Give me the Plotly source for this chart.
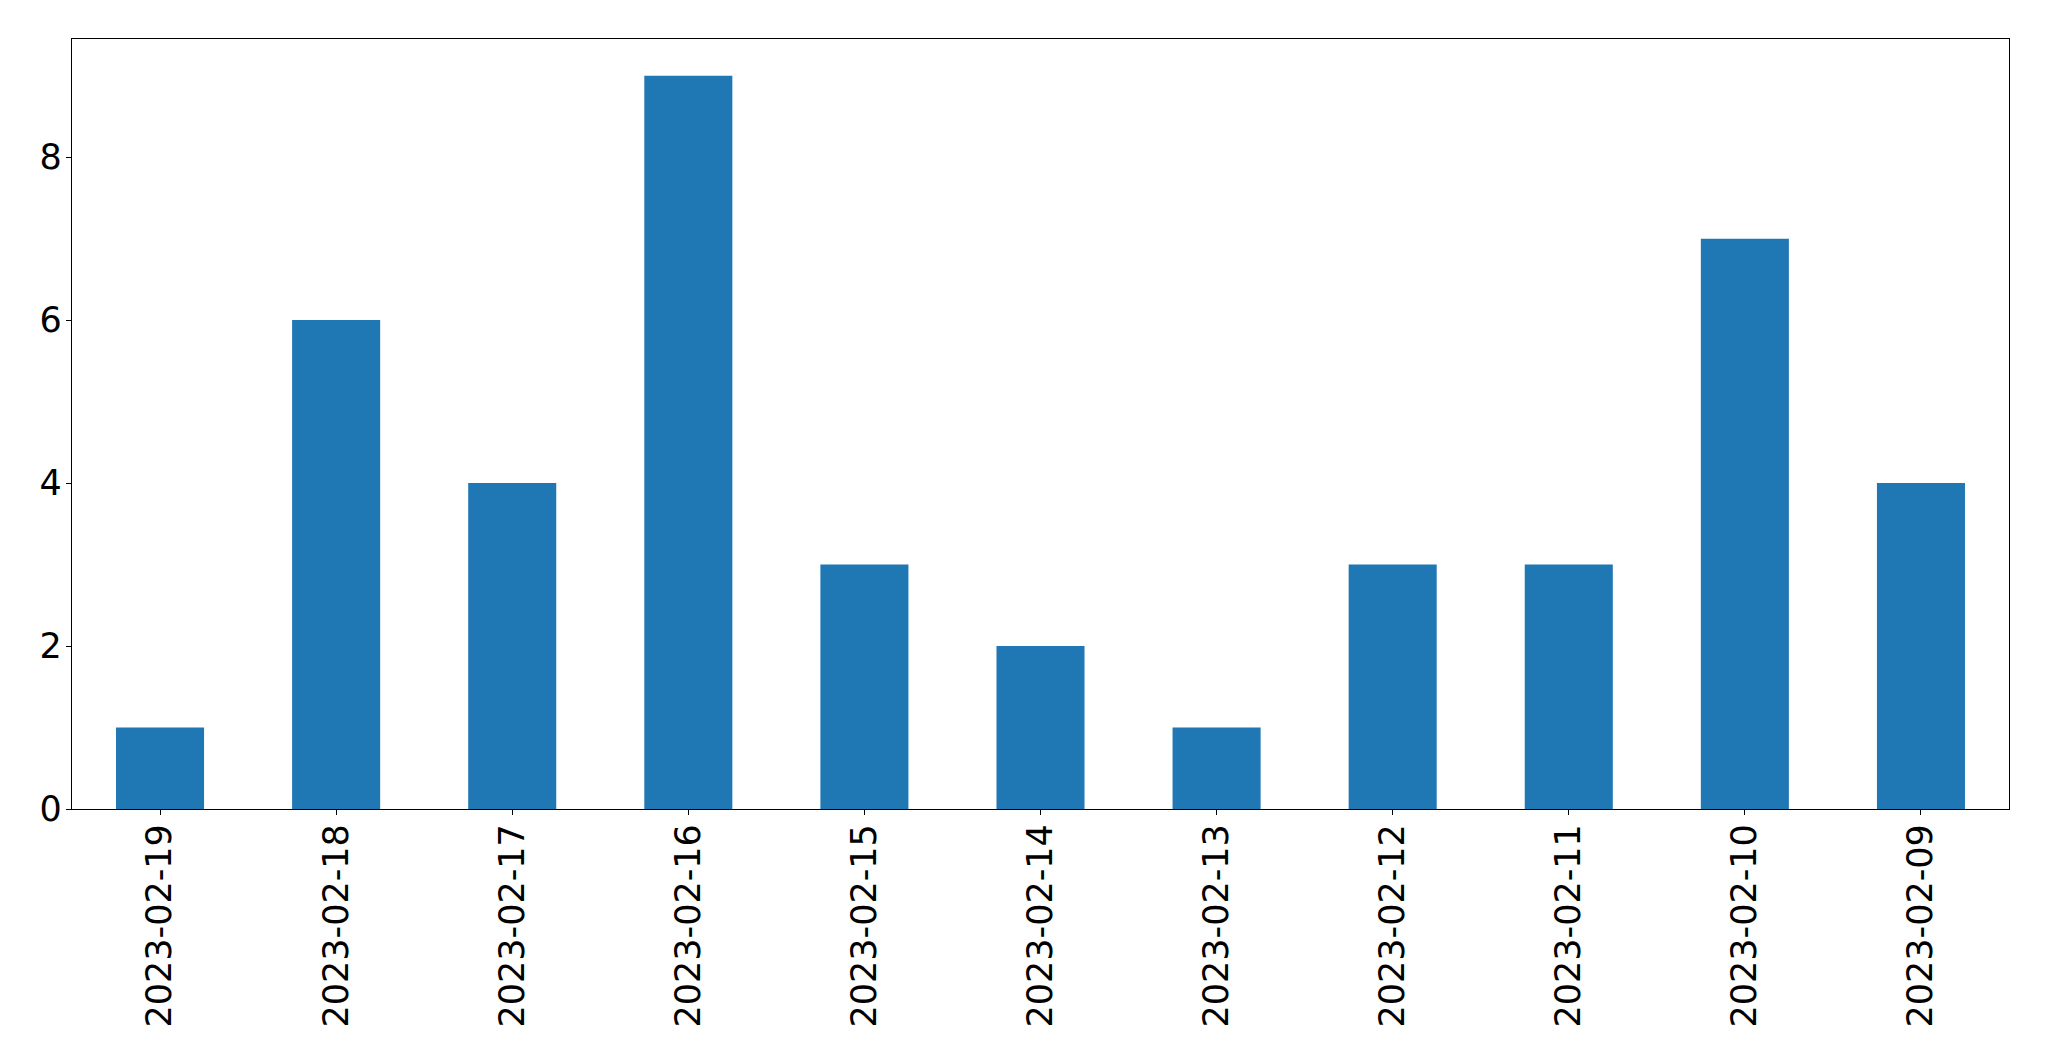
import plotly.graph_objects as go

dates = ["2023-02-19", "2023-02-18", "2023-02-17", "2023-02-16", "2023-02-15",
         "2023-02-14", "2023-02-13", "2023-02-12", "2023-02-11", "2023-02-10", "2023-02-09"]
counts = [1, 6, 4, 9, 3, 2, 1, 3, 3, 7, 4]
y_ticks = [0, 2, 4, 6, 8]

fig = go.Figure(go.Bar(x=dates, y=counts, width=0.5, marker=dict(color="#1f77b4", line=dict(width=0))))

fig.update_layout(
    width=2041, height=1053,
    margin=dict(l=64, r=40, t=31, b=252),
    plot_bgcolor="white", paper_bgcolor="white",
    font=dict(family="DejaVu Sans", size=35, color="black"),
    showlegend=False,
)
fig.update_xaxes(
    type="category", range=[-0.5, len(dates) - 0.5], automargin=False,
    tickangle=-90, ticks="outside", ticklen=5, tickwidth=1.3, tickcolor="black",
    showline=True, linecolor="black", linewidth=1.3, mirror=True, showgrid=False,
    ticklabelstandoff=-5,
)
fig.update_yaxes(
    range=[0, 9.45], tickvals=y_ticks, ticks="outside", ticklen=5, tickwidth=1.3, tickcolor="black",
    showline=True, linecolor="black", linewidth=1.3, mirror=True, showgrid=False, zeroline=False,
    ticklabelstandoff=-3, automargin=False,
)

fig.write_html("out.html")
